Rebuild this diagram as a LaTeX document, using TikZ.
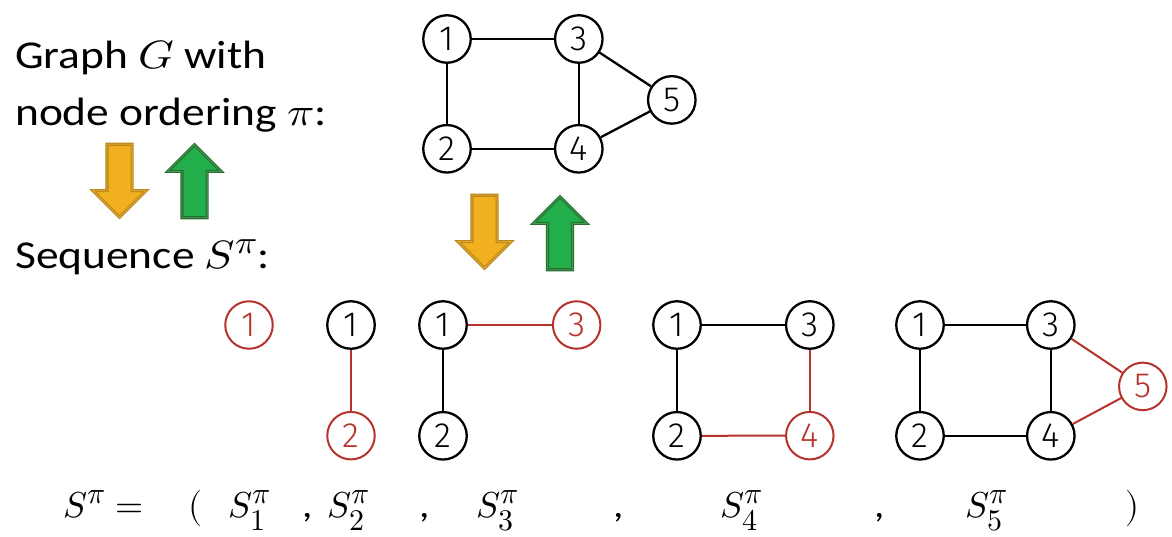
\documentclass[tikz,border=0pt]{standalone}
\usepackage{fontspec}
\usepackage{unicode-math}
\setmainfont{Carlito}[FakeStretch=1.15]
\setmathfont{Latin Modern Math}
\newfontfamily\numfont{Fira Sans Light}
\usepackage{tikz}
\usetikzlibrary{positioning,calc,shapes.arrows}
\newcommand{\scrpt}[2]{\mbox{\fontsize{#1}{#1}\selectfont$#2$}}

\definecolor{newred}{HTML}{B5332A}
\definecolor{goldfill}{HTML}{F0B020}
\definecolor{golddark}{HTML}{B8871E}
\definecolor{goldline}{HTML}{E2A82C}
\definecolor{greenfill}{HTML}{22AF4B}
\definecolor{greendark}{HTML}{2B6B34}
\definecolor{greenline}{HTML}{3F9E4E}

\begin{document}
\begin{tikzpicture}[
  x=1pt, y=-1pt,
  node distance=60pt and 82pt,
  vtx/.style={circle, draw, line width=2.3pt, minimum size=47.5pt, inner sep=0pt,
    font=\numfont\fontsize{35}{35}\selectfont},
  newv/.style={draw=newred, text=newred, line width=2pt},
  lnk/.style={line width=2.3pt},
  newlnk/.style={draw=newred, line width=2pt},
  txt/.style={anchor=base west, inner sep=0pt, font=\fontsize{39.5}{45}\selectfont},
  seq/.style={anchor=base west, inner sep=0pt, font=\fontsize{36}{40}\selectfont},
  blk/.style={single arrow, single arrow head extend=14pt, minimum height=73pt,
    inner xsep=0pt, inner ysep=12pt, line width=1.1pt, double distance=0.9pt, anchor=tip},
  dnarr/.style={blk, rotate=-90, fill=goldfill, draw=golddark, double=goldline},
  uparr/.style={blk, rotate=90, fill=greenfill, draw=greendark, double=greenline}]

\useasboundingbox (0,0) rectangle (1172,536);

% labels on the left
\node[txt] (tGraph) at (15,68) {Graph \scalebox{1.15}[1]{$G$} with};
\node[txt] (tOrder) at (15,125) {node ordering \scalebox{1.15}[1]{$\pi$}:};
\node[txt] (tSeq) at (15,268) {Sequence \scalebox{1.15}[1]{$S^{\scrpt{32}{\pi}}$}:};

\node[dnarr] (dnL) at (119.5,218) {};
\node[uparr] (upL) at (194.5,144) {};
\node[dnarr] (dnM) at (484.5,269) {};
\node[uparr] (upM) at (560,196) {};

% graph G
\node[vtx] (a1) at (447,39) {1};
\node[vtx, right=of a1] (a3) {3};
\node[vtx, below=of a1] (a2) {2};
\node[vtx, below=of a3] (a4) {4};
\node[vtx] (a5) at ($(a3)!.5!(a4)+(93,6)$) {5};

\draw[lnk] (a1) -- (a3);
\draw[lnk] (a1) -- (a2);
\draw[lnk] (a3) -- (a4);
\draw[lnk] (a2) -- (a4);
\draw[lnk] (a3) -- (a5);
\draw[lnk] (a4) -- (a5);

% S_1
\node[vtx, newv] (b1) at (249,325) {1};

% S_2
\node[vtx] (c1) at (351,325) {1};
\node[vtx, newv, below=61pt of c1] (c2) {2};
\draw[newlnk] (c1) -- (c2);

% S_3
\node[vtx] (d1) at (443,325) {1};
\node[vtx, newv, right=84pt of d1] (d3) {3};
\node[vtx, below=61pt of d1] (d2) {2};
\draw[lnk] (d1) -- (d2);
\draw[newlnk] (d1) -- (d3);

% S_4
\node[vtx] (e1) at (677,325) {1};
\node[vtx, right=83pt of e1] (e3) {3};
\node[vtx, below=61pt of e1] (e2) {2};
\node[vtx, newv, below=61pt of e3] (e4) {4};
\draw[lnk] (e1) -- (e3);
\draw[lnk] (e1) -- (e2);
\draw[newlnk] (e3) -- (e4);
\draw[newlnk] (e2) -- (e4);

% S_5
\node[vtx] (f1) at (920,325) {1};
\node[vtx, right=81pt of f1] (f3) {3};
\node[vtx, below=61pt of f1] (f2) {2};
\node[vtx, below=61pt of f3] (f4) {4};
\node[vtx, newv] (f5) at ($(f3)!.5!(f4)+(92,6)$) {5};
\draw[lnk] (f1) -- (f3);
\draw[lnk] (f1) -- (f2);
\draw[lnk] (f3) -- (f4);
\draw[lnk] (f2) -- (f4);
\draw[newlnk] (f3) -- (f5);
\draw[newlnk] (f4) -- (f5);

% the sequence
\node[seq] (sEq) at (63,517) {$S^{\scrpt{30}{\pi}} =$};
\node[seq] (pL) at (188,517) {$($};
\node[seq] (s1) at (228,517) {$S^{\scrpt{30}{\pi}}_{\scrpt{30}{1}}$};
\node[seq] (k1) at (302,517) {,};
\node[seq] (s2) at (327,517) {$S^{\scrpt{30}{\pi}}_{\scrpt{30}{2}}$};
\node[seq] (k2) at (419,517) {,};
\node[seq] (s3) at (476,517) {$S^{\scrpt{30}{\pi}}_{\scrpt{30}{3}}$};
\node[seq] (k3) at (613,517) {,};
\node[seq] (s4) at (720,517) {$S^{\scrpt{30}{\pi}}_{\scrpt{30}{4}}$};
\node[seq] (k4) at (874,517) {,};
\node[seq] (s5) at (965,517) {$S^{\scrpt{30}{\pi}}_{\scrpt{30}{5}}$};
\node[seq] (pR) at (1125,517) {$)$};

\end{tikzpicture}
\end{document}
